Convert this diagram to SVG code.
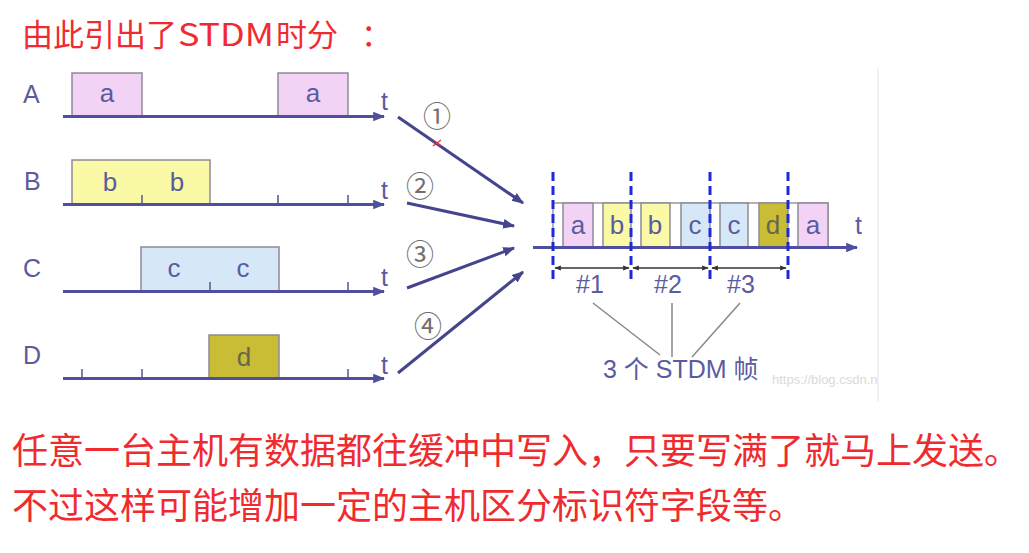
<svg xmlns="http://www.w3.org/2000/svg" width="1029" height="553" viewBox="0 0 1029 553">
<defs>
<style>
.red{font-family:"Noto Sans CJK SC","Microsoft YaHei",sans-serif;fill:#f02b2f}
.lbl{font-family:"Liberation Sans",Arial,sans-serif;font-size:25px;fill:#5b5b9f}
.blt{font-family:"Liberation Sans",Arial,sans-serif;font-size:26px;fill:#5b5b9f;text-anchor:middle}
.axis{stroke:#4f4f9e;stroke-width:3;fill:none}
.tick{stroke:#55558f;stroke-width:1.5}
.box{stroke:#8e8a98;stroke-width:1.5}
.fa{fill:#f3d3f5}.fb{fill:#fafaa6}.fc{fill:#d6e8f8}.fd{fill:#c9bd36}
.num{font-family:"Noto Sans CJK SC",sans-serif;font-size:28px;fill:#707070;text-anchor:middle}
.conn{stroke:#45458e;stroke-width:3;fill:none}
.dash{stroke:#1e2ad8;stroke-width:3;stroke-dasharray:9 5}
.dim{stroke:#333;stroke-width:1.3}
.lead{stroke:#888;stroke-width:1.5}
</style>
<marker id="ah" viewBox="0 0 10 10" refX="9" refY="5" markerWidth="4" markerHeight="4" orient="auto" markerUnits="strokeWidth"><path d="M0,1 L10,5 L0,9 z" fill="#4f4f9e"/></marker>
<marker id="ca" viewBox="0 0 10 10" refX="9" refY="5" markerWidth="4" markerHeight="4" orient="auto" markerUnits="strokeWidth"><path d="M0,1 L10,5 L0,9 z" fill="#45458e"/></marker>
<marker id="da" viewBox="0 0 10 10" refX="9" refY="5" markerWidth="5" markerHeight="5" orient="auto-start-reverse" markerUnits="strokeWidth"><path d="M0,1 L10,5 L0,9 z" fill="#333"/></marker>
<clipPath id="clipimg"><rect x="0" y="60" width="878" height="345"/></clipPath>
</defs>
<rect width="1029" height="553" fill="#fff"/>

<text class="red" font-size="31" y="46"><tspan x="22">由此引出了</tspan><tspan x="178" textLength="96" lengthAdjust="spacingAndGlyphs">STDM</tspan><tspan x="276">时分</tspan><tspan x="361">：</tspan></text>

<line x1="878" y1="68" x2="878" y2="402" stroke="#eeeeee" stroke-width="1.5"/>
<text x="772" y="384" clip-path="url(#clipimg)" font-family="Liberation Sans,Arial,sans-serif" font-size="13" fill="#dadada">https://blog.csdn.net</text>

<g id="rowA">
<text class="lbl" x="23" y="103">A</text>
<rect class="box fa" x="72" y="73" width="70" height="43"/>
<rect class="box fa" x="278" y="73" width="70" height="43"/>
<text class="blt" x="107" y="102">a</text>
<text class="blt" x="313" y="102">a</text>
<line class="axis" x1="63" y1="116.5" x2="384" y2="116.5" marker-end="url(#ah)"/>
<text class="lbl" x="381" y="110">t</text>
</g>
<g id="rowB">
<text class="lbl" x="24" y="190">B</text>
<rect class="box fb" x="72" y="160" width="138" height="44"/>
<text class="blt" x="110" y="191">b</text>
<text class="blt" x="177" y="191">b</text>
<line class="tick" x1="142" y1="195" x2="142" y2="204"/>
<line class="tick" x1="278" y1="195" x2="278" y2="204"/>
<line class="tick" x1="348" y1="195" x2="348" y2="204"/>
<line class="axis" x1="63" y1="204.5" x2="384" y2="204.5" marker-end="url(#ah)"/>
<text class="lbl" x="381" y="199">t</text>
</g>
<g id="rowC">
<text class="lbl" x="23" y="277">C</text>
<rect class="box fc" x="141" y="247" width="138" height="44"/>
<text class="blt" x="174" y="277">c</text>
<text class="blt" x="243" y="277">c</text>
<line class="tick" x1="210" y1="282" x2="210" y2="291"/>
<line class="tick" x1="348" y1="282" x2="348" y2="291"/>
<line class="axis" x1="63" y1="291.5" x2="384" y2="291.5" marker-end="url(#ah)"/>
<text class="lbl" x="381" y="286">t</text>
</g>
<g id="rowD">
<text class="lbl" x="23" y="364">D</text>
<rect class="box fd" x="209" y="335" width="70" height="43"/>
<text class="blt" x="244" y="366" style="fill:#66664f">d</text>
<line class="tick" x1="82" y1="369" x2="82" y2="378"/>
<line class="tick" x1="142" y1="369" x2="142" y2="378"/>
<line class="tick" x1="348" y1="369" x2="348" y2="378"/>
<line class="axis" x1="63" y1="378.5" x2="384" y2="378.5" marker-end="url(#ah)"/>
<text class="lbl" x="381" y="374">t</text>
</g>

<g id="connectors">
<line class="conn" x1="398" y1="117" x2="523" y2="203" marker-end="url(#ca)"/>
<line class="conn" x1="407" y1="203" x2="514" y2="226" marker-end="url(#ca)"/>
<line class="conn" x1="407" y1="288" x2="514" y2="248" marker-end="url(#ca)"/>
<line class="conn" x1="398" y1="373" x2="523" y2="272" marker-end="url(#ca)"/>
<path d="M433,140 L441,146 M441,140 L433,146" stroke="#e83030" stroke-width="1.3"/>
<text class="num" x="437" y="127">①</text>
<text class="num" x="420" y="197">②</text>
<text class="num" x="420" y="265">③</text>
<text class="num" x="428" y="337">④</text>
</g>

<g id="stdm">
<rect x="553" y="203" width="275" height="44" fill="#fff" stroke="#999" stroke-width="1.5"/>
<rect class="box fa" x="563" y="203" width="30" height="44"/>
<rect class="box fb" x="603" y="203" width="28" height="44"/>
<rect class="box fb" x="641" y="203" width="29" height="44"/>
<rect class="box fc" x="681" y="203" width="29" height="44"/>
<rect class="box fc" x="720" y="203" width="28" height="44"/>
<rect class="box fd" x="759" y="203" width="29" height="44"/>
<rect class="box fa" x="798" y="203" width="30" height="44"/>
<text class="blt" x="578" y="234">a</text>
<text class="blt" x="617" y="234">b</text>
<text class="blt" x="655" y="234">b</text>
<text class="blt" x="695" y="234">c</text>
<text class="blt" x="734" y="234">c</text>
<text class="blt" x="773" y="234" style="fill:#66664f">d</text>
<text class="blt" x="813" y="234">a</text>
<line class="axis" x1="533" y1="247.5" x2="857" y2="247.5" marker-end="url(#ah)"/>
<text class="lbl" x="855" y="234">t</text>
<line class="dash" x1="553" y1="172" x2="553" y2="284"/>
<line class="dash" x1="631" y1="172" x2="631" y2="284"/>
<line class="dash" x1="710" y1="172" x2="710" y2="284"/>
<line class="dash" x1="788" y1="172" x2="788" y2="284"/>
<line class="dim" x1="555" y1="268" x2="629" y2="268" marker-start="url(#da)" marker-end="url(#da)"/>
<line class="dim" x1="633" y1="268" x2="708" y2="268" marker-start="url(#da)" marker-end="url(#da)"/>
<line class="dim" x1="712" y1="268" x2="786" y2="268" marker-start="url(#da)" marker-end="url(#da)"/>
<text class="blt" x="590" y="293" style="font-size:25px">#1</text>
<text class="blt" x="668" y="293" style="font-size:25px">#2</text>
<text class="blt" x="741" y="293" style="font-size:25px">#3</text>
<line class="lead" x1="593" y1="303" x2="660" y2="355"/>
<line class="lead" x1="672" y1="303" x2="672" y2="357"/>
<line class="lead" x1="740" y1="303" x2="692" y2="357"/>
<text x="603" y="378" font-family="Liberation Sans,Noto Sans CJK SC,sans-serif" font-size="25" fill="#5b5b9f">3 个 STDM 帧</text>
</g>

<text class="red" font-size="36" x="12" y="464">任意一台主机有数据都往缓冲中写入，只要写满了就马上发送。</text>
<text class="red" font-size="36" x="12" y="519">不过这样可能增加一定的主机区分标识符字段等。</text>
</svg>
